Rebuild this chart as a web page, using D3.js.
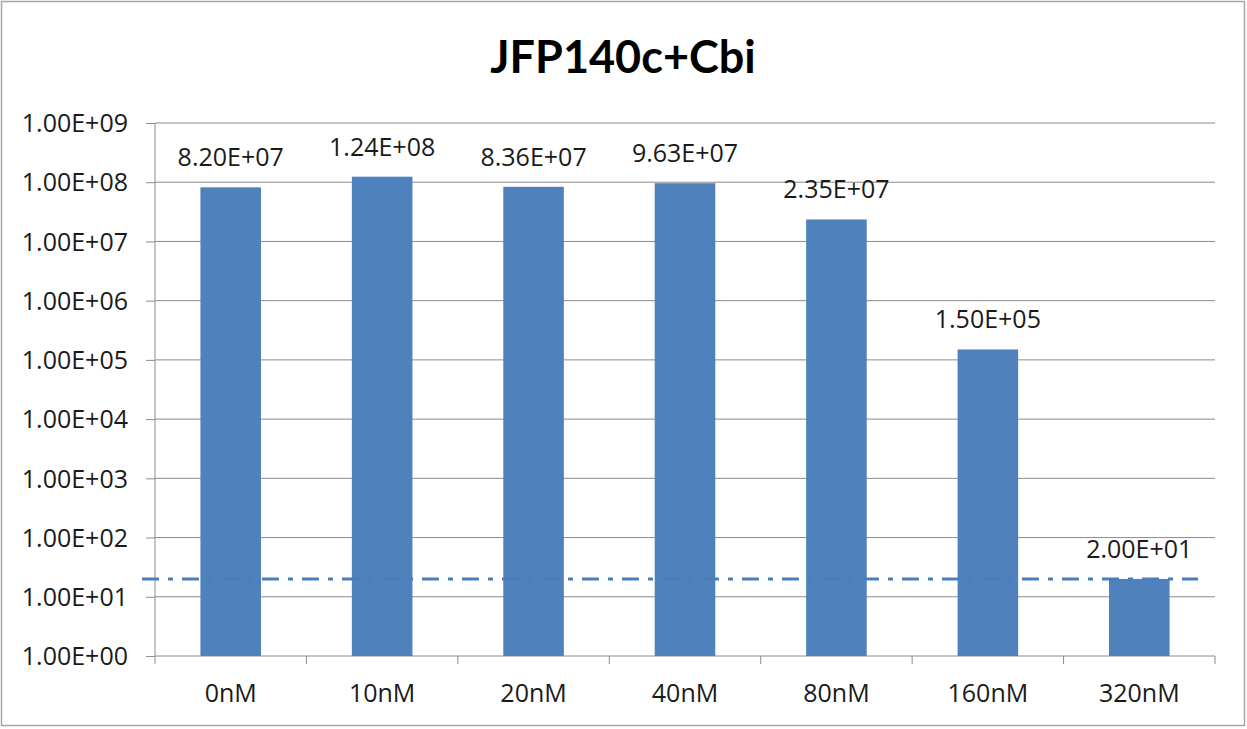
<!DOCTYPE html>
<html>
<head>
<meta charset="utf-8">
<script src="https://cdn.jsdelivr.net/npm/d3@7"></script>
<style>
    body { margin: 0; background: #fff; }
    svg text { font-family: "Open Sans", Lato, sans-serif; fill: #1a1a1a; }
</style>
</head>
<body>
<div id="chart"></div>
<script>
var categories = ["0nM", "10nM", "20nM", "40nM", "80nM", "160nM", "320nM"];
var values = [8.20e7, 1.24e8, 8.36e7, 9.63e7, 2.35e7, 1.50e5, 2.00e1];
var valueLabels = ["8.20E+07", "1.24E+08", "8.36E+07", "9.63E+07", "2.35E+07", "1.50E+05", "2.00E+01"];
var yTicks = [1e0, 1e1, 1e2, 1e3, 1e4, 1e5, 1e6, 1e7, 1e8, 1e9];
var yTickLabels = ["1.00E+00", "1.00E+01", "1.00E+02", "1.00E+03", "1.00E+04", "1.00E+05", "1.00E+06", "1.00E+07", "1.00E+08", "1.00E+09"];
var detectionLimit = 20;
var title = "JFP140c+Cbi";

var W = 1247, H = 729;
var margin = { top: 123, right: 32, bottom: 73, left: 155 };
var width = W - margin.left - margin.right;
var height = H - margin.top - margin.bottom;
var labelSize = "25px";

var svg = d3.select("#chart")
    .append("svg")
    .attr("width", W)
    .attr("height", H);

// outer frame
svg.append("rect")
    .attr("x", 1.5).attr("y", 1.5)
    .attr("width", W - 4).attr("height", H - 5)
    .attr("fill", "#fff")
    .attr("stroke", "#a6a6a6")
    .attr("stroke-width", 1.5);

svg.append("text")
    .attr("x", 623)
    .attr("y", 73)
    .attr("text-anchor", "middle")
    .style("font-family", "Lato, sans-serif")
    .style("font-size", "45px")
    .style("font-weight", "bold")
    .style("fill", "#000")
    .text(title);

var g = svg.append("g")
    .attr("transform", "translate(" + margin.left + "," + margin.top + ")");

var x = d3.scaleBand()
    .domain(categories)
    .range([0, width])
    .paddingInner(0.6)
    .paddingOuter(0.3);

var y = d3.scaleLog()
    .domain([1, 1e9])
    .range([height, 0]);

// gridlines
g.selectAll(".grid")
    .data(yTicks.slice(1))
    .enter()
    .append("line")
    .attr("class", "grid")
    .attr("x1", 0)
    .attr("x2", width)
    .attr("y1", function (d) { return y(d); })
    .attr("y2", function (d) { return y(d); })
    .attr("stroke", "#8c8c8c")
    .attr("stroke-width", 1);

// y axis
var yAxis = g.append("g")
    .call(d3.axisLeft(y)
        .tickValues(yTicks)
        .tickSize(9)
        .tickPadding(18)
        .tickFormat(function (d, i) { return yTickLabels[i]; }));
yAxis.select(".domain").attr("stroke", "#8c8c8c").attr("d", "M0,0V" + height);
yAxis.selectAll(".tick line").attr("stroke", "#8c8c8c");
yAxis.selectAll("text")
    .style("font-size", labelSize)
    .attr("dy", "0.35em")
    .attr("fill", "#1a1a1a");

// x axis with ticks at category boundaries
var xAxis = g.append("g")
    .attr("transform", "translate(0," + height + ")");
xAxis.append("line")
    .attr("x1", 0).attr("x2", width)
    .attr("stroke", "#8c8c8c");
var step = x.step();
xAxis.selectAll(".xtick")
    .data(d3.range(categories.length + 1))
    .enter()
    .append("line")
    .attr("class", "xtick")
    .attr("x1", function (i) { return i * step; })
    .attr("x2", function (i) { return i * step; })
    .attr("y1", 0).attr("y2", 8)
    .attr("stroke", "#8c8c8c");
xAxis.selectAll(".xlabel")
    .data(categories)
    .enter()
    .append("text")
    .attr("class", "xlabel")
    .attr("x", function (d) { return x(d) + x.bandwidth() / 2; })
    .attr("y", 46)
    .attr("text-anchor", "middle")
    .style("font-size", labelSize)
    .text(function (d) { return d; });

// bars
g.selectAll(".bar")
    .data(values)
    .enter()
    .append("rect")
    .attr("class", "bar")
    .attr("x", function (d, i) { return x(categories[i]); })
    .attr("y", function (d) { return y(d); })
    .attr("width", x.bandwidth())
    .attr("height", function (d) { return height - y(d); })
    .attr("fill", "#4f81bd");

// value labels
g.selectAll(".vlabel")
    .data(values)
    .enter()
    .append("text")
    .attr("class", "vlabel")
    .attr("x", function (d, i) { return x(categories[i]) + x.bandwidth() / 2; })
    .attr("y", function (d) { return y(d) - 21; })
    .attr("text-anchor", "middle")
    .style("font-size", labelSize)
    .text(function (d, i) { return valueLabels[i]; });

// detection limit line
g.append("line")
    .attr("x1", -13)
    .attr("x2", width - 17)
    .attr("y1", y(detectionLimit))
    .attr("y2", y(detectionLimit))
    .attr("stroke", "#4a7ebb")
    .attr("stroke-width", 3)
    .attr("stroke-dasharray", "17,9,5,9");
</script>
</body>
</html>
